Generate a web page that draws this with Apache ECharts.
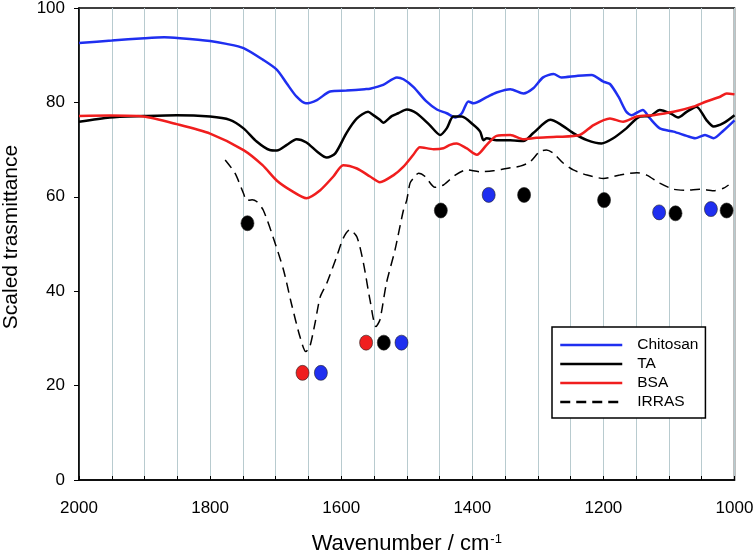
<!DOCTYPE html>
<html>
<head>
<meta charset="utf-8">
<script src="https://cdn.jsdelivr.net/npm/echarts@6/dist/echarts.min.js"></script>
<style>
html,body{margin:0;padding:0;background:#fff;}
#chart{width:756px;height:552px;}
</style>
</head>
<body>
<div id="chart"></div>
<script>
// ---- data (wavenumber cm-1, scaled transmittance) ----
var chitosan = [[2000,92.6],[1950,93.1],[1900,93.6],[1870,93.8],[1846,93.6],[1800,93.0],[1775,92.4],[1749,91.5],[1719,89.0],[1698,86.9],[1683,84.0],[1668,81.2],[1654,79.8],[1637,80.5],[1617,82.3],[1592,82.5],[1564,82.8],[1556,82.9],[1536,83.7],[1515,85.3],[1505,84.9],[1490,83.3],[1470,80.2],[1454,78.5],[1439,77.7],[1426,76.8],[1416,77.7],[1406,80.2],[1398,79.8],[1378,81.1],[1363,82.1],[1342,82.8],[1322,81.9],[1307,83.0],[1292,85.3],[1276,86.0],[1264,85.3],[1241,85.6],[1218,85.8],[1200,84.4],[1190,83.9],[1177,81.2],[1165,78.0],[1157,77.3],[1140,78.4],[1129,76.6],[1114,74.5],[1093,73.8],[1073,72.9],[1060,72.4],[1045,73.1],[1032,72.4],[1017,74.0],[1000,76.2]];
var ta = [[2000,75.9],[1953,76.8],[1902,77.1],[1851,77.3],[1800,77.0],[1770,76.3],[1749,74.5],[1729,71.7],[1709,69.9],[1698,69.8],[1683,71.0],[1668,72.2],[1653,71.5],[1637,69.6],[1622,68.3],[1609,69.2],[1592,73.5],[1576,76.6],[1559,78.0],[1551,77.3],[1541,76.3],[1536,75.7],[1523,77.1],[1513,77.7],[1500,78.5],[1485,77.7],[1465,75.2],[1449,73.1],[1439,74.5],[1429,77.0],[1416,77.0],[1398,75.2],[1388,73.8],[1383,72.0],[1378,72.4],[1363,72.0],[1342,72.0],[1322,71.8],[1307,73.5],[1281,76.3],[1266,75.4],[1246,73.5],[1225,72.0],[1203,71.3],[1185,72.4],[1165,74.5],[1144,77.0],[1129,77.1],[1114,78.4],[1098,77.7],[1086,76.8],[1073,78.0],[1058,79.1],[1043,76.3],[1032,74.9],[1017,75.6],[1000,77.3]];
var bsa = [[2000,77.1],[1953,77.2],[1902,77.0],[1851,75.4],[1800,73.4],[1749,69.9],[1720,66.7],[1698,63.4],[1675,61.2],[1653,59.7],[1632,61.4],[1612,64.3],[1597,66.7],[1576,66.0],[1556,64.3],[1541,63.1],[1520,64.6],[1505,66.4],[1490,68.9],[1480,70.5],[1459,70.1],[1444,70.3],[1434,71.0],[1424,71.3],[1409,70.3],[1393,68.9],[1378,71.0],[1363,72.9],[1342,73.1],[1322,72.2],[1302,72.5],[1271,72.7],[1236,73.1],[1215,75.2],[1190,76.6],[1170,75.9],[1149,77.0],[1124,77.3],[1093,78.0],[1063,79.1],[1043,80.2],[1022,81.2],[1012,81.9],[1000,81.7]];
var irras = [[1777,67.8],[1762,65.0],[1749,60.7],[1744,59.2],[1736,59.4],[1729,59.0],[1719,57.2],[1704,51.5],[1688,44.5],[1676,37.4],[1663,30.4],[1654,27.2],[1648,28.2],[1640,33.2],[1632,38.8],[1622,41.7],[1607,47.3],[1597,51.2],[1587,53.0],[1576,51.5],[1566,45.9],[1556,38.1],[1547,32.5],[1541,33.9],[1531,41.7],[1518,48.7],[1505,57.2],[1500,59.3],[1495,62.9],[1490,63.9],[1482,65.0],[1472,64.3],[1457,62.0],[1444,62.5],[1426,64.6],[1409,65.7],[1388,65.3],[1368,65.5],[1348,66.0],[1327,66.5],[1312,67.4],[1297,69.6],[1287,69.9],[1276,69.2],[1261,67.1],[1246,65.7],[1225,64.6],[1200,63.9],[1175,64.6],[1149,65.1],[1134,64.6],[1114,62.9],[1093,61.6],[1073,61.4],[1053,61.6],[1032,61.3],[1017,61.8],[1009,62.5]];
var redPeaks = [[1659,22.7],[1562,29.1]];
var blackPeaks = [[1743,54.4],[1535,29.1],[1448,57.1],[1321,60.4],[1199,59.3],[1090,56.5],[1012,57.1]];
var bluePeaks = [[1631,22.7],[1508,29.1],[1375,60.4],[1115,56.7],[1036,57.4]];
var seriesNames = ['Chitosan','TA','BSA','IRRAS'];

var BLUE = '#1f2ff0', RED = '#f01e1e', BLACK = '#000000';
var FONT = 'Liberation Sans, Arial, sans-serif';

var chart = echarts.init(document.getElementById('chart'));
function lineSeries(name, data, color, width, dash) {
  return {
    name: name, type: 'line', data: data, symbol: 'none', smooth: 0.25,
    lineStyle: { color: color, width: width, type: dash || 'solid' },
    itemStyle: { color: color }, z: 3, animation: false
  };
}
function peakSeries(data, color) {
  return {
    type: 'scatter', data: data, symbol: 'circle', symbolSize: [13, 15],
    itemStyle: { color: color, borderColor: '#222', borderWidth: 0.6, opacity: 1 },
    z: 4, animation: false, silent: true
  };
}
chart.setOption({
  backgroundColor: '#fff',
  animation: false,
  textStyle: { fontFamily: FONT },
  grid: { left: 79, right: 21.5, top: 8, bottom: 72, outerBoundsMode: 'none', containLabel: false,
    show: true, borderColor: '#000', borderWidth: 1.5, backgroundColor: 'transparent' },
  legend: {
    data: seriesNames, orient: 'vertical', left: 552, top: 327,
    itemStyle: { opacity: 0 },
    lineStyle: { width: 2.5 },
    borderColor: '#000', borderWidth: 1.5, backgroundColor: '#fff',
    padding: [10, 7, 8, 7], itemWidth: 62, itemHeight: 14, itemGap: 3,
    textStyle: { fontSize: 15.5, color: '#000', fontFamily: FONT, padding: [0, 0, 0, 10] },
    selectedMode: false
  },
  xAxis: {
    type: 'value', min: 1000, max: 2000, interval: 200, inverse: true,
    name: 'Wavenumber / cm{sup|-1}', nameLocation: 'middle', nameGap: 53,
    nameTextStyle: { fontSize: 22, color: '#000', fontFamily: FONT,
      rich: { sup: { fontSize: 13, verticalAlign: 'top', color: '#000', fontFamily: FONT, padding: [0, 0, 9, 1] } } },
    axisLine: { show: true, lineStyle: { color: '#000', width: 1.5 } },
    axisTick: { show: true, inside: true, length: 4, lineStyle: { color: '#000' } },
    minorTick: { show: true, splitNumber: 4, length: 4, lineStyle: { color: '#000' } },
    axisLabel: { fontSize: 17, color: '#000', margin: 20, fontFamily: FONT,
      formatter: function (v) { return String(v); } },
    splitLine: { show: true, lineStyle: { color: '#b8cbcf', width: 1 } },
    minorSplitLine: { show: true, lineStyle: { color: '#b8cbcf', width: 1 } }
  },
  yAxis: {
    type: 'value', min: 0, max: 100, interval: 20,
    name: 'Scaled trasmittance', nameLocation: 'middle', nameGap: 57,
    nameTextStyle: { fontSize: 21, color: '#000', fontFamily: FONT, padding: [0, 0, 0, 14] },
    axisLine: { show: true, lineStyle: { color: '#000', width: 1.5 } },
    axisTick: { show: true, inside: false, length: 5, lineStyle: { color: '#000' } },
    axisLabel: { fontSize: 17, color: '#000', margin: 14, fontFamily: FONT },
    splitLine: { show: false }
  },
  series: [
    lineSeries('Chitosan', chitosan, BLUE, 2.5),
    lineSeries('TA', ta, BLACK, 2.5),
    lineSeries('BSA', bsa, RED, 2.5),
    lineSeries('IRRAS', irras, BLACK, 1.5, [10, 6]),
    peakSeries(redPeaks, RED),
    peakSeries(blackPeaks, BLACK),
    peakSeries(bluePeaks, BLUE)
  ]
});
</script>
</body>
</html>
